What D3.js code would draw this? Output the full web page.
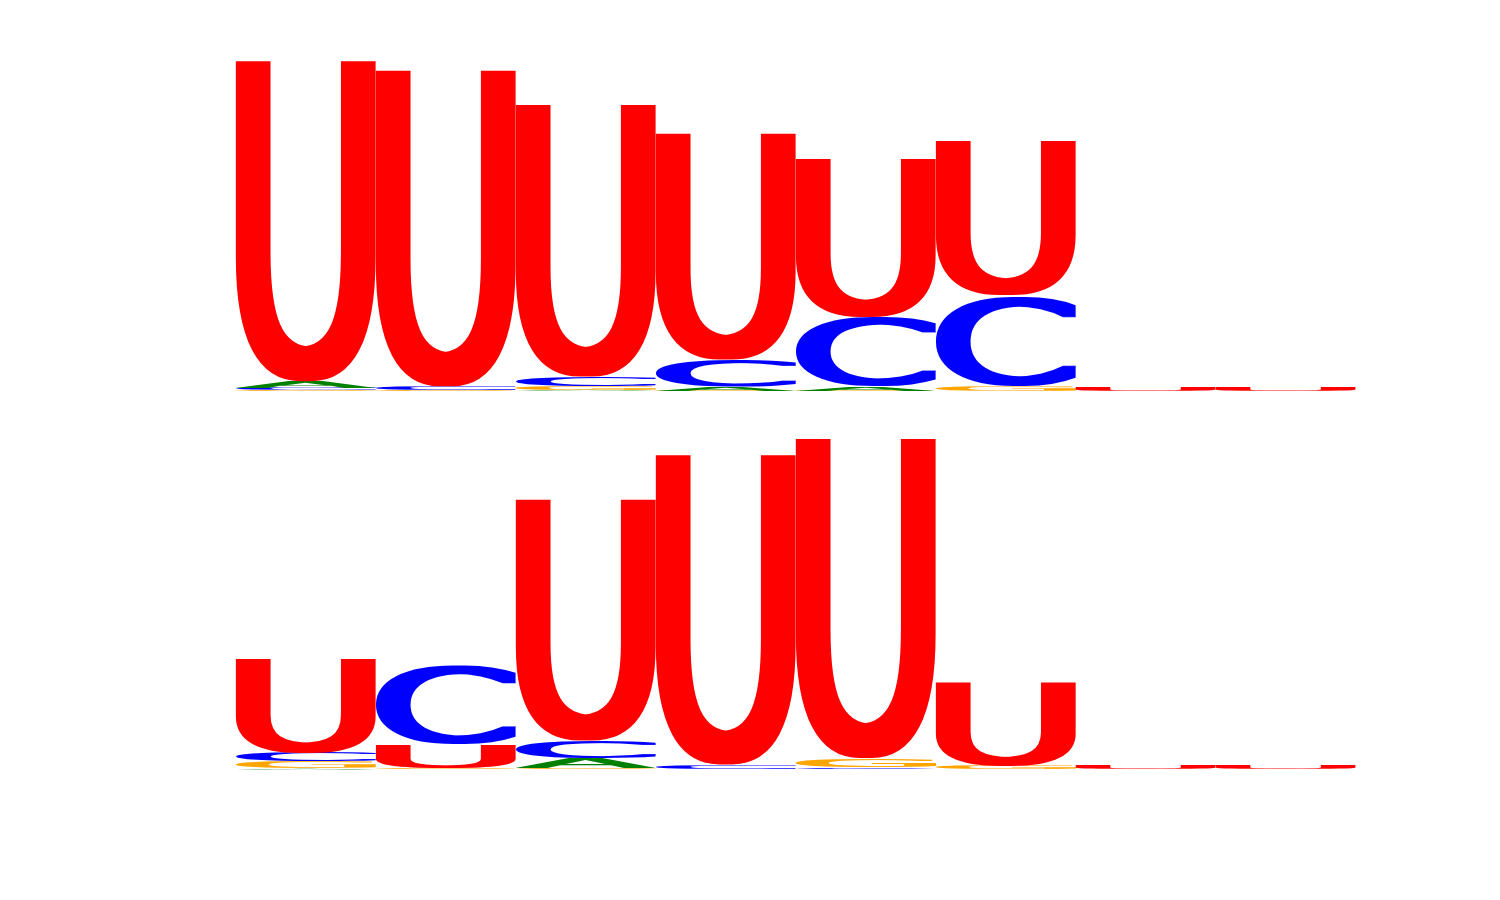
<!DOCTYPE html>
<html>
<head>
<meta charset="utf-8">
<script src="https://cdn.jsdelivr.net/npm/d3@7"></script>
<style>
  html, body { margin: 0; padding: 0; background: #ffffff; }
  svg { display: block; }
</style>
</head>
<body>
<svg id="chart" width="1500" height="900"></svg>
<script>
// ---- data (heights in bits) ----
const positions = [1, 2, 3, 4, 5, 6, 7, 8];
const bases = ["A", "C", "G", "U"];
const baseColors = ["#008000", "#0000ff", "#ffa500", "#ff0000"];

// top logo
const topA = [0.036, 0.002, 0.006, 0.023, 0.025, 0.002, 0.000, 0.000];
const topC = [0.015, 0.021, 0.056, 0.162, 0.419, 0.545, 0.000, 0.000];
const topG = [0.006, 0.003, 0.024, 0.003, 0.003, 0.030, 0.000, 0.000];
const topU = [1.943, 1.916, 1.649, 1.372, 0.957, 0.936, 0.022, 0.022];

// bottom logo
const botA = [0.007, 0.000, 0.062, 0.000, 0.002, 0.000, 0.000, 0.000];
const botC = [0.053, 0.475, 0.102, 0.027, 0.011, 0.000, 0.000, 0.000];
const botG = [0.042, 0.005, 0.007, 0.000, 0.052, 0.021, 0.000, 0.000];
const botU = [0.575, 0.143, 1.462, 1.877, 1.937, 0.505, 0.022, 0.022];

const yMax = 2.0;

// ---- layout ----
const svg = d3.select("#chart");
const x = d3.scaleLinear().domain([1, 8]).range([306, 1286]);
const halfWidth = 0.512;
const thicken = 5.5; // horizontal stroke thickening, px per side

svg.append("defs").append("filter")
  .attr("id", "thick")
  .attr("filterUnits", "userSpaceOnUse")
  .attr("x", 0).attr("y", 0).attr("width", 1500).attr("height", 900)
  .append("feMorphology")
  .attr("operator", "dilate")
  .attr("radius", `${thicken} 0.01`);

const panels = [
  { series: [topA, topC, topG, topU], base: 391.3 },
  { series: [botA, botC, botG, botU], base: 769.5 }
];

// glyph ink metrics via canvas
const FS = 1000;
const ctx = document.createElement("canvas").getContext("2d");
ctx.font = FS + "px 'DejaVu Sans'";
const metrics = {};
bases.forEach(b => {
  const m = ctx.measureText(b);
  metrics[b] = {
    L: m.actualBoundingBoxLeft,
    R: m.actualBoundingBoxRight,
    A: m.actualBoundingBoxAscent,
    D: m.actualBoundingBoxDescent
  };
});

panels.forEach(panel => {
  const y = d3.scaleLinear().domain([0, yMax]).range([panel.base, panel.base - 332.4]);
  const g = svg.append("g");
  const glyphs = [];
  positions.forEach((p, i) => {
    const items = bases.map((b, k) => ({ b, color: baseColors[k], v: panel.series[k][i] }))
      .filter(d => d.v > 0)
      .sort((a, c) => a.v - c.v);
    let cum = 0;
    items.forEach(d => {
      glyphs.push({ pos: p, b: d.b, color: d.color, y0: cum, y1: cum + d.v });
      cum += d.v;
    });
  });

  const wrap = g.selectAll("g.glyph")
    .data(glyphs)
    .join("g")
    .attr("class", "glyph")
    .attr("filter", "url(#thick)");

  wrap.append("text")
    .attr("x", 0)
    .attr("y", 0)
    .attr("font-family", "DejaVu Sans")
    .attr("font-size", FS)
    .attr("fill", d => d.color)
    .attr("transform", d => {
      const m = metrics[d.b];
      const x0 = x(d.pos - halfWidth) + thicken;
      const x1 = x(d.pos + halfWidth) - thicken;
      const top = y(d.y1);
      const bottom = y(d.y0);
      const sx = (x1 - x0) / (m.L + m.R);
      const sy = (bottom - top) / (m.A + m.D);
      return `translate(${x0},${top}) scale(${sx},${sy}) translate(${m.L},${m.A})`;
    })
    .text(d => d.b);
});
</script>
</body>
</html>
